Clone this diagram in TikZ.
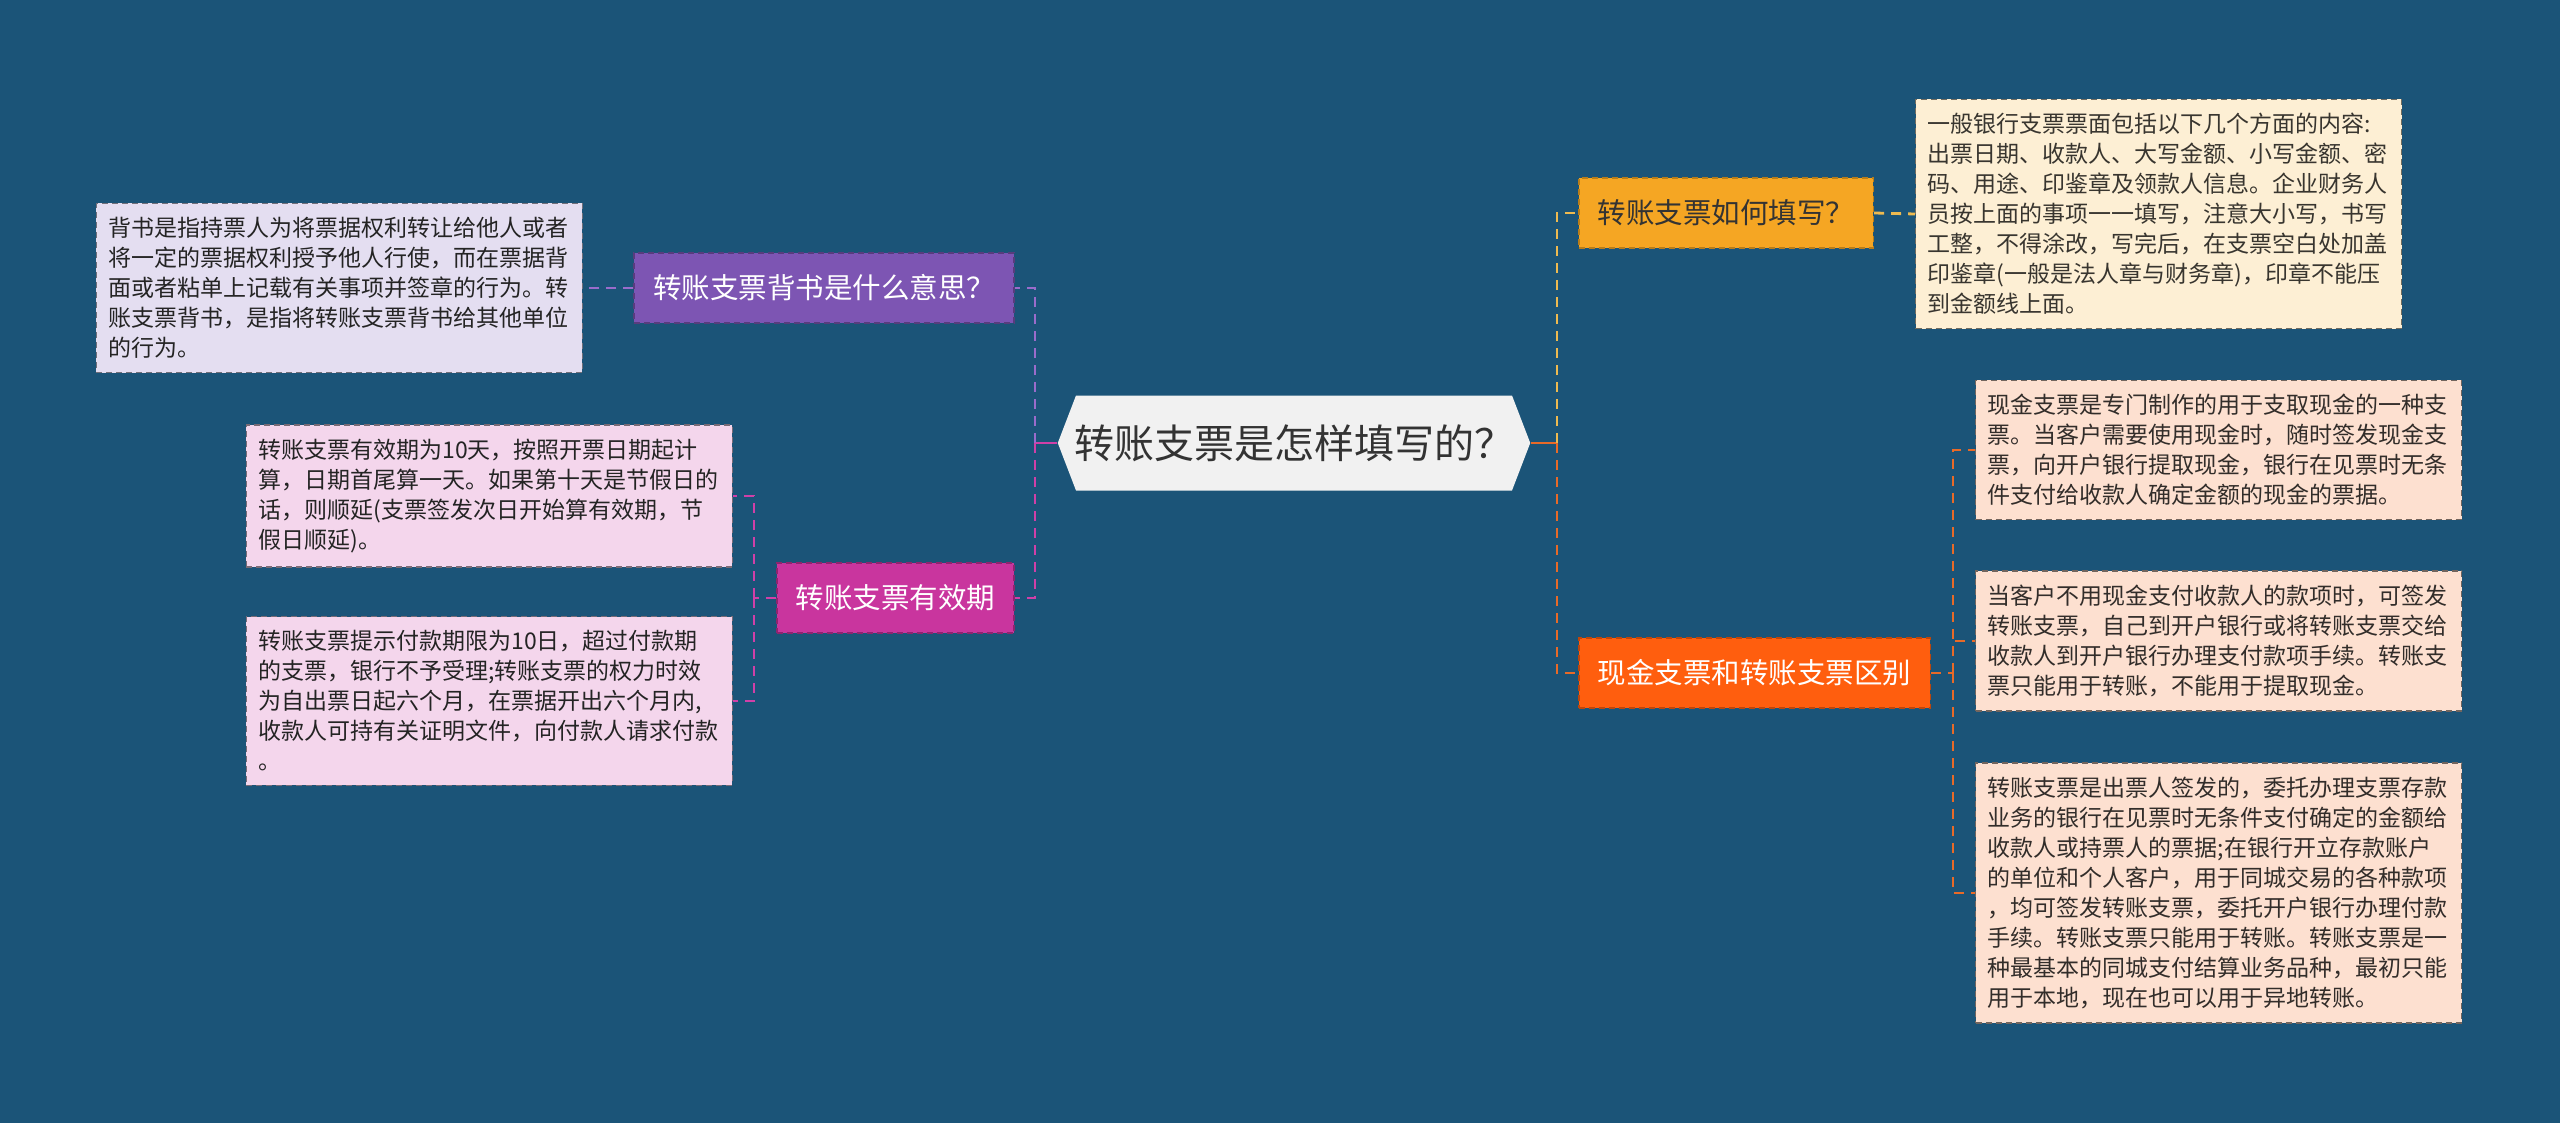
\documentclass[tikz,border=0pt]{standalone}
\usepackage{fontspec}
\setmainfont{Noto Sans CJK SC}
\usetikzlibrary{shapes.symbols}
\definecolor{bgblue}{HTML}{1B5478}
\definecolor{hubfill}{HTML}{F1F1F1}
\definecolor{hubink}{HTML}{333333}
\definecolor{purpbox}{HTML}{7D55B3}
\definecolor{purpline}{HTML}{9A6CCB}
\definecolor{magbox}{HTML}{C9359E}
\definecolor{magline}{HTML}{D040A8}
\definecolor{yelbox}{HTML}{F5A623}
\definecolor{yelline}{HTML}{EEBA50}
\definecolor{orgbox}{HTML}{FF5E0E}
\definecolor{orgline}{HTML}{E86A28}
\definecolor{lavleaf}{HTML}{E4DEF1}
\definecolor{pinkleaf}{HTML}{F4D6EC}
\definecolor{creamleaf}{HTML}{FDEFD4}
\definecolor{peachleaf}{HTML}{FDE0D0}
\tikzset{
  hub/.style={signal,signal to=east and west,signal pointer angle=138,
    fill=hubfill,text=hubink,font=\fontsize{20pt}{25pt}\selectfont,
    inner xsep=-1pt,inner ysep=0pt,minimum height=47.5pt},
  topic/.style={draw,dash pattern=on 3pt off 2pt,line width=0.8pt,
    inner xsep=9.5pt,inner ysep=0pt,minimum height=35pt,
    font=\fontsize{14.25pt}{17pt}\selectfont},
  leaf/.style={draw,dash pattern=on 3pt off 2pt,line width=0.7pt,
    text width=231pt,align=left,inner xsep=6pt,inner ysep=7pt,
    font=\fontsize{11.5pt}{15pt}\selectfont},
  link/.style={line width=1.4pt,dash pattern=on 5pt off 3.5pt},
  stem/.style={line width=1.4pt}
}
\begin{document}
\begin{tikzpicture}[x=0.5pt,y=-0.5pt]
  \useasboundingbox (0,0) rectangle (2560,1123);
  \fill[bgblue] (0,0) rectangle (2560,1123);
  % centre
  \node[hub] (hub) at (1294,443) {转账支票是怎样填写的？};
  % left topics
  \node[topic,fill=purpbox,draw=purpbox!70!black,text=white,anchor=east] (qa) at (1015,288) {转账支票背书是什么意思？};
  \node[topic,fill=magbox,draw=magbox!70!black,text=white,anchor=east] (qb) at (1015,598) {转账支票有效期};
  % right topics
  \node[topic,fill=yelbox,draw=yelbox!75!black,text=hubink,anchor=west] (qc) at (1578,213) {转账支票如何填写？};
  \node[topic,fill=orgbox,draw=orgbox!75!black,text=white,anchor=west] (qd) at (1578,673) {现金支票和转账支票区别};
  % left leaves
  \node[leaf,fill=lavleaf,draw=lavleaf!50!black,text=hubink!70!black,anchor=east] (la) at (583,288) {背书是指持票人为将票据权利转让给他人或者\\将一定的票据权利授予他人行使，而在票据背\\面或者粘单上记载有关事项并签章的行为。转\\账支票背书，是指将转账支票背书给其他单位\\的行为。};
  \node[leaf,fill=pinkleaf,draw=pinkleaf!50!black,text=hubink!70!black,anchor=east] (lb) at (733,496) {转账支票有效期为10天，按照开票日期起计\\算，日期首尾算一天。如果第十天是节假日的\\话，则顺延(支票签发次日开始算有效期，节\\假日顺延)。};
  \node[leaf,fill=pinkleaf,draw=pinkleaf!50!black,text=hubink!70!black,anchor=east] (lc) at (733,701) {转账支票提示付款期限为10日，超过付款期\\的支票，银行不予受理;转账支票的权力时效\\为自出票日起六个月，在票据开出六个月内,\\收款人可持有关证明文件，向付款人请求付款\\。};
  % right leaves
  \node[leaf,fill=creamleaf,draw=creamleaf!45!black,text=creamleaf!22!black,anchor=west] (ra) at (1915,214) {一般银行支票票面包括以下几个方面的内容:\\出票日期、收款人、大写金额、小写金额、密\\码、用途、印鉴章及领款人信息。企业财务人\\员按上面的事项一一填写，注意大小写，书写\\工整，不得涂改，写完后，在支票空白处加盖\\印鉴章(一般是法人章与财务章)，印章不能压\\到金额线上面。};
  \node[leaf,fill=peachleaf,draw=peachleaf!45!black,text=peachleaf!20!black,anchor=west] (rb) at (1975,450) {现金支票是专门制作的用于支取现金的一种支\\票。当客户需要使用现金时，随时签发现金支\\票，向开户银行提取现金，银行在见票时无条\\件支付给收款人确定金额的现金的票据。};
  \node[leaf,fill=peachleaf,draw=peachleaf!45!black,text=peachleaf!20!black,anchor=west] (rc) at (1975,641) {当客户不用现金支付收款人的款项时，可签发\\转账支票，自己到开户银行或将转账支票交给\\收款人到开户银行办理支付款项手续。转账支\\票只能用于转账，不能用于提取现金。};
  \node[leaf,fill=peachleaf,draw=peachleaf!45!black,text=peachleaf!20!black,anchor=west] (rd) at (1975,893) {转账支票是出票人签发的，委托办理支票存款\\业务的银行在见票时无条件支付确定的金额给\\收款人或持票人的票据;在银行开立存款账户\\的单位和个人客户，用于同城交易的各种款项\\，均可签发转账支票，委托开户银行办理付款\\手续。转账支票只能用于转账。转账支票是一\\种最基本的同城支付结算业务品种，最初只能\\用于本地，现在也可以用于异地转账。};
  % connectors, left
  \coordinate (lj) at (1035,443);
  \coordinate (lk) at (754,598);
  \draw[stem,magline] (hub.west) -- (lj);
  \draw[link,purpline] (lj) |- (qa.east);
  \draw[link,magline] (lj) |- (qb.east);
  \draw[link,purpline] (qa.west) -- (la.east);
  \draw[link,magline] (qb.west) -- (lk);
  \draw[link,magline] (lk) |- (lb.east);
  \draw[link,magline] (lk) |- (lc.east);
  % connectors, right
  \coordinate (rj) at (1557,443);
  \coordinate (rk) at (1953,673);
  \draw[stem,orgline] (hub.east) -- (rj);
  \draw[link,yelline] (rj) |- (qc.west);
  \draw[link,orgline] (rj) |- (qd.west);
  \draw[link,yelline] (qc.east) -- (ra.west);
  \draw[link,orgline] (qd.east) -- (rk);
  \draw[link,orgline] (rk) |- (rb.west);
  \draw[link,orgline] (rk) |- (rc.west);
  \draw[link,orgline] (rk) |- (rd.west);
\end{tikzpicture}
\end{document}
